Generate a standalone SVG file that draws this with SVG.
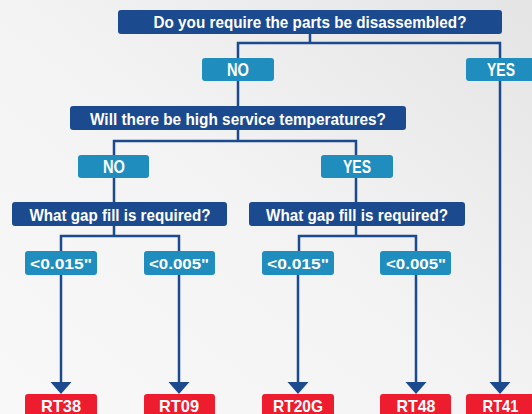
<svg xmlns="http://www.w3.org/2000/svg" width="532" height="414" viewBox="0 0 532 414">
<defs>
<linearGradient id="bg" x1="0" y1="1" x2="1" y2="0">
<stop offset="0" stop-color="#f8f8f8"/>
<stop offset="0.5" stop-color="#f3f3f3"/>
<stop offset="1" stop-color="#e4e4e4"/>
</linearGradient>
<marker id="arr" markerUnits="userSpaceOnUse" markerWidth="13" markerHeight="22" viewBox="0 -11 13 22" refX="0" refY="0" orient="auto">
<path d="M0,-10.5 L12,0 L0,10.5 Z" fill="#1b4a8f"/>
</marker>
<style>
.q{fill:#1b4a8f}
.a{fill:#1f8dbd}
.r{fill:#ed1c2e}
text{font-family:"Liberation Sans",Arial,sans-serif;font-weight:bold;fill:#fff;text-anchor:middle}
.tq{font-size:17px}
.ta{font-size:17.5px}
.to{font-size:15px}
.tr{font-size:17px}
.c{fill:none;stroke:#1b4a8f;stroke-width:2.5}
</style>
</defs>
<rect width="532" height="414" fill="url(#bg)"/>
<g id="connectors">
<path class="c" d="M310 34V43M238 58V43H500V58"/>
<path class="c" d="M238 81V106"/>
<path class="c" d="M500 81V382" marker-end="url(#arr)"/>
<path class="c" d="M238 130V141M114 155V141H356V155"/>
<path class="c" d="M114 178V202M356 178V202"/>
<path class="c" d="M114 226V236M61 251V236H179V251"/>
<path class="c" d="M356 226V236M299 251V236H416V251"/>
<path class="c" d="M61 275V382" marker-end="url(#arr)"/>
<path class="c" d="M179 275V382" marker-end="url(#arr)"/>
<path class="c" d="M298 275V382" marker-end="url(#arr)"/>
<path class="c" d="M416 275V382" marker-end="url(#arr)"/>
</g>
<g id="q1"><rect class="q" x="118" y="10" width="384" height="24" rx="3"/><text class="tq" x="310" y="28.3" textLength="313" lengthAdjust="spacingAndGlyphs">Do you require the parts be disassembled?</text></g>
<g id="no1"><rect class="a" x="202" y="58" width="72" height="23" rx="3"/><text class="ta" x="238" y="76" textLength="22" lengthAdjust="spacingAndGlyphs">NO</text></g>
<g id="yes1"><rect class="a" x="466" y="58" width="74" height="23" rx="3"/><text class="ta" x="501" y="76" textLength="28" lengthAdjust="spacingAndGlyphs">YES</text></g>
<g id="q2"><rect class="q" x="70" y="106" width="336" height="24" rx="3"/><text class="tq" x="238" y="124.5" textLength="296" lengthAdjust="spacingAndGlyphs">Will there be high service temperatures?</text></g>
<g id="no2"><rect class="a" x="78" y="155" width="71" height="23" rx="3"/><text class="ta" x="114" y="173" textLength="22" lengthAdjust="spacingAndGlyphs">NO</text></g>
<g id="yes2"><rect class="a" x="321" y="155" width="72" height="23" rx="3"/><text class="ta" x="357" y="173" textLength="28" lengthAdjust="spacingAndGlyphs">YES</text></g>
<g id="q3"><rect class="q" x="12" y="202" width="215" height="24" rx="3"/><text class="tq" x="120" y="220.5" textLength="181" lengthAdjust="spacingAndGlyphs">What gap fill is required?</text></g>
<g id="q4"><rect class="q" x="249" y="202" width="216" height="24" rx="3"/><text class="tq" x="357" y="220.5" textLength="182" lengthAdjust="spacingAndGlyphs">What gap fill is required?</text></g>
<g id="o1"><rect class="a" x="25" y="251" width="72" height="24" rx="3"/><text class="to" x="61" y="269" textLength="62" lengthAdjust="spacingAndGlyphs">&lt;0.015"</text></g>
<g id="o2"><rect class="a" x="144" y="251" width="71" height="24" rx="3"/><text class="to" x="179" y="269" textLength="60" lengthAdjust="spacingAndGlyphs">&lt;0.005"</text></g>
<g id="o3"><rect class="a" x="262" y="251" width="72" height="24" rx="3"/><text class="to" x="298" y="269" textLength="62" lengthAdjust="spacingAndGlyphs">&lt;0.015"</text></g>
<g id="o4"><rect class="a" x="380" y="251" width="71" height="24" rx="3"/><text class="to" x="416" y="269" textLength="60" lengthAdjust="spacingAndGlyphs">&lt;0.005"</text></g>
<g id="rt38"><rect class="r" x="25" y="394" width="72" height="26" rx="3"/><text class="tr" x="61" y="412" textLength="40" lengthAdjust="spacingAndGlyphs">RT38</text></g>
<g id="rt09"><rect class="r" x="144" y="394" width="71" height="26" rx="3"/><text class="tr" x="179" y="412" textLength="40" lengthAdjust="spacingAndGlyphs">RT09</text></g>
<g id="rt20g"><rect class="r" x="262" y="394" width="72" height="26" rx="3"/><text class="tr" x="298" y="412" textLength="50" lengthAdjust="spacingAndGlyphs">RT20G</text></g>
<g id="rt48"><rect class="r" x="380" y="394" width="71" height="26" rx="3"/><text class="tr" x="416" y="412" textLength="39" lengthAdjust="spacingAndGlyphs">RT48</text></g>
<g id="rt41"><rect class="r" x="466" y="394" width="74" height="26" rx="3"/><text class="tr" x="500.5" y="412" textLength="36" lengthAdjust="spacingAndGlyphs">RT41</text></g>
</svg>
